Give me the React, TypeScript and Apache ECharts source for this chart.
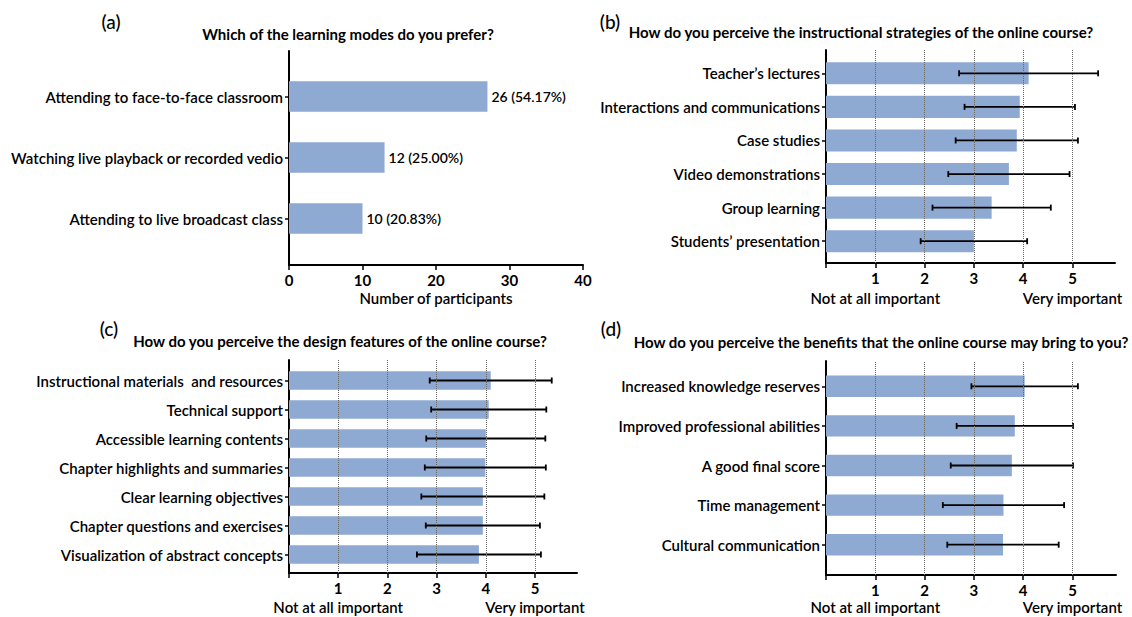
import React, { useEffect, useRef } from "react";
import * as echarts from "echarts";

// ---------- data ----------
const modeCategories = [
  "Attending to face-to-face classroom",
  "Watching live playback or recorded vedio",
  "Attending to live broadcast class",
];
const modeCounts = [27, 13, 10];
const modeLabels = ["26 (54.17%)", "12 (25.00%)", "10 (20.83%)"];

const strategyCategories = [
  "Teacher\u2019s lectures",
  "Interactions and communications",
  "Case studies",
  "Video demonstrations",
  "Group learning",
  "Students\u2019 presentation",
];
const strategyMeans = [4.11, 3.93, 3.87, 3.71, 3.36, 3.0];
const strategySD = [1.41, 1.12, 1.24, 1.23, 1.2, 1.08];

const designCategories = [
  "Instructional materials  and resources",
  "Technical support",
  "Accessible learning contents",
  "Chapter highlights and summaries",
  "Clear learning objectives",
  "Chapter questions and exercises",
  "Visualization of abstract concepts",
];
const designMeans = [4.1, 4.06, 4.0, 3.99, 3.94, 3.94, 3.86];
const designSD = [1.24, 1.17, 1.21, 1.23, 1.25, 1.16, 1.26];

const benefitCategories = [
  "Increased knowledge reserves",
  "Improved professional abilities",
  "A good final score",
  "Time management",
  "Cultural communication",
];
const benefitMeans = [4.03, 3.83, 3.77, 3.6, 3.59];
const benefitSD = [1.08, 1.18, 1.24, 1.23, 1.13];

const importanceTicks = [1, 2, 3, 4, 5];
const importanceTickMarks = [0, 1, 2, 3, 4, 5];
const importanceAnchorValues = [1, 5];
const importanceAnchors: Record<number, string> = {
  1: "Not at all important",
  5: "Very important",
};

const panelTitles = [
  "Which of the learning modes do you prefer?",
  "How do you perceive the instructional strategies of the online course?",
  "How do you perceive the design features of the online course?",
  "How do you perceive the benefits that the online course may bring to you?",
];
const panelTags = ["(a)", "(b)", "(c)", "(d)"];

// ---------- styles ----------
const FONT = "Lato";
const BAR = "#8eaad3";
const INK = "#000";
const LABEL_WEIGHT = 600;

type Layout = {
  left: number;
  width: number;
  axisTop: number;
  axisBottom: number;
  bandTop: number;
  bandBottom: number;
  xMax: number;
  gap: string;
  anchorMargin: number;
  tagX: number;
  tagY: number;
  titleX: number;
  titleY: number;
};

const layouts: Layout[] = [
  { left: 289, width: 294, axisTop: 51, axisBottom: 265, bandTop: 66, bandBottom: 249, xMax: 40, gap: "50%", anchorMargin: 0, tagX: 111, tagY: 21, titleX: 348, titleY: 34 },
  { left: 826, width: 289, axisTop: 50, axisBottom: 263, bandTop: 56.5, bandBottom: 258, xMax: 289 / 49.3, gap: "34%", anchorMargin: 27, tagX: 610, tagY: 21, titleX: 861, titleY: 32 },
  { left: 289, width: 288, axisTop: 360, axisBottom: 573, bandTop: 366, bandBottom: 569, xMax: 288 / 49.2, gap: "36%", anchorMargin: 26, tagX: 109, tagY: 328, titleX: 340, titleY: 341 },
  { left: 826, width: 290, axisTop: 361, axisBottom: 575, bandTop: 366.5, bandBottom: 564.5, xMax: 290 / 49.3, gap: "46%", anchorMargin: 24, tagX: 611, tagY: 328, titleX: 881, titleY: 342 },
];

function buildOption() {
  const grid: any[] = [];
  const xAxis: any[] = [];
  const yAxis: any[] = [];
  const series: any[] = [];
  const graphic: any[] = [];

  const panels = [
    { cats: modeCategories, values: modeCounts, sd: null as number[] | null },
    { cats: strategyCategories, values: strategyMeans, sd: strategySD },
    { cats: designCategories, values: designMeans, sd: designSD },
    { cats: benefitCategories, values: benefitMeans, sd: benefitSD },
  ];

  panels.forEach((p, k) => {
    const L = layouts[k];
    const outer = grid.length;
    grid.push({ left: L.left, width: L.width, top: L.axisTop, height: L.axisBottom - L.axisTop, containLabel: false });
    const inner = grid.length;
    grid.push({ left: L.left, width: L.width, top: L.bandTop, height: L.bandBottom - L.bandTop, containLabel: false });

    const axisLine = { show: true, onZero: false, lineStyle: { color: INK, width: 2 } };
    const tickStyle = { color: INK, width: 1.5 };
    const tickLabel = { color: INK, fontFamily: FONT, fontSize: 15, fontWeight: "bold" };

    const outerX = xAxis.length;
    const outerY = yAxis.length;
    if (k === 0) {
      xAxis.push({
        gridIndex: outer,
        type: "value",
        min: 0,
        max: 40,
        interval: 10,
        axisLine,
        axisTick: { show: true, length: 5, lineStyle: tickStyle },
        axisLabel: { ...tickLabel, margin: 7 },
        splitLine: { show: false },
        name: "Number of participants",
        nameLocation: "middle",
        nameGap: 25,
        nameTextStyle: { color: INK, fontFamily: FONT, fontSize: 15, fontWeight: LABEL_WEIGHT, verticalAlign: "top" },
      });
    } else {
      xAxis.push({
        gridIndex: outer,
        type: "value",
        min: 0,
        max: L.xMax,
        axisLine,
        axisTick: { show: true, length: 5, lineStyle: tickStyle, customValues: importanceTickMarks },
        axisLabel: { ...tickLabel, customValues: importanceTicks, margin: 7, hideOverlap: false },
        splitLine: { show: false },
      });
    }
    yAxis.push({
      gridIndex: outer,
      type: "value",
      min: 0,
      max: 1,
      axisLine,
      axisTick: { show: false },
      axisLabel: { show: false },
      splitLine: { show: false },
    });

    const innerX = xAxis.length;
    xAxis.push({ gridIndex: inner, type: "value", min: 0, max: L.xMax, show: false });
    const innerY = yAxis.length;
    yAxis.push({
      gridIndex: inner,
      type: "category",
      data: p.cats,
      inverse: true,
      axisLine: { show: false },
      axisTick: { show: true, alignWithLabel: true, length: 4, lineStyle: tickStyle },
      axisLabel: { color: INK, fontFamily: FONT, fontSize: 15, fontWeight: LABEL_WEIGHT, margin: 6 },
      splitLine: { show: false },
    });

    if (k > 0) {
      // anchor words under ticks 1 and 5
      xAxis.push({
        gridIndex: outer,
        type: "value",
        position: "bottom",
        min: 0,
        max: L.xMax,
        axisLine: { show: false },
        axisTick: { show: false },
        splitLine: { show: false },
        axisLabel: {
          customValues: importanceAnchorValues,
          margin: L.anchorMargin,
          color: INK,
          fontFamily: FONT,
          fontSize: 15,
          fontWeight: LABEL_WEIGHT,
          hideOverlap: false,
          formatter: (v: number) => importanceAnchors[v] || "",
        },
      });

      series.push({
        type: "line",
        xAxisIndex: outerX,
        yAxisIndex: outerY,
        data: [[0, 0]],
        showSymbol: false,
        symbolSize: 0,
        lineStyle: { width: 0 },
        silent: true,
        z: 1,
        markLine: {
          silent: true,
          symbol: "none",
          label: { show: false },
          lineStyle: { type: "dotted", color: "#666", width: 1 },
          data: importanceTicks.map((v) => ({ xAxis: v })),
        },
      });
    }

    series.push({
      type: "bar",
      xAxisIndex: innerX,
      yAxisIndex: innerY,
      data: p.values,
      barCategoryGap: L.gap,
      itemStyle: { color: BAR },
      z: 2,
      label:
        k === 0
          ? {
              show: true,
              position: "right",
              distance: 4,
              color: INK,
              fontFamily: FONT,
              fontSize: 14,
              fontWeight: LABEL_WEIGHT,
              formatter: (q: any) => modeLabels[q.dataIndex],
            }
          : { show: false },
    });

    if (p.sd) {
      const sd = p.sd;
      series.push({
        type: "custom",
        xAxisIndex: innerX,
        yAxisIndex: innerY,
        z: 3,
        data: p.values.map((m, i) => [m - sd[i], m + sd[i], i]),
        encode: { x: [0, 1], y: 2 },
        renderItem: (_params: any, api: any) => {
          const lo = api.coord([api.value(0), api.value(2)]);
          const hi = api.coord([api.value(1), api.value(2)]);
          const h = 3;
          const st = { stroke: INK, lineWidth: 1.8 };
          return {
            type: "group",
            children: [
              { type: "line", shape: { x1: lo[0], y1: lo[1], x2: hi[0], y2: hi[1] }, style: st },
              { type: "line", shape: { x1: lo[0], y1: lo[1] - h, x2: lo[0], y2: lo[1] + h }, style: st },
              { type: "line", shape: { x1: hi[0], y1: hi[1] - h, x2: hi[0], y2: hi[1] + h }, style: st },
            ],
          };
        },
      });
    }

    graphic.push({
      type: "text",
      x: L.tagX,
      y: L.tagY,
      style: { text: panelTags[k], fill: INK, fontFamily: FONT, fontSize: 19, fontWeight: 500, align: "center", verticalAlign: "middle" },
    });
    graphic.push({
      type: "text",
      x: L.titleX,
      y: L.titleY,
      style: { text: panelTitles[k], fill: INK, fontFamily: FONT, fontSize: 15, fontWeight: "bold", align: "center", verticalAlign: "middle" },
    });
  });

  return { animation: false, backgroundColor: "#fff", grid, xAxis, yAxis, series, graphic };
}

export default function App() {
  const ref = useRef<HTMLDivElement>(null);
  useEffect(() => {
    if (!ref.current) return;
    const chart = echarts.init(ref.current, null, { renderer: "svg" });
    chart.setOption(buildOption() as any);
    return () => chart.dispose();
  }, []);
  return (
    <div
      ref={ref}
      style={{ position: "absolute", left: 0, top: 0, width: 1132, height: 617, background: "#fff" }}
    />
  );
}
